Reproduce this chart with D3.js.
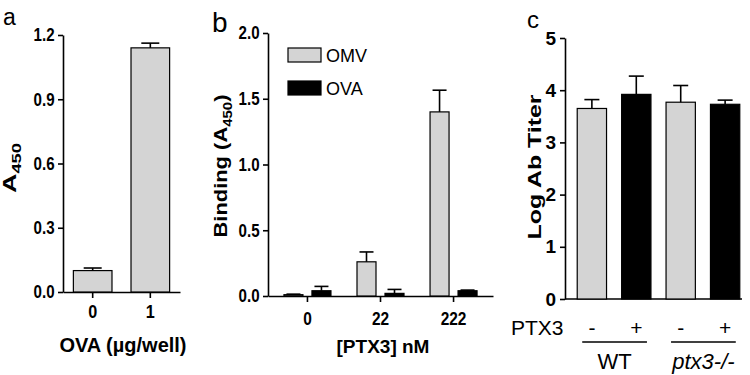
<!DOCTYPE html>
<html>
<head>
<meta charset="utf-8">
<script src="https://cdn.jsdelivr.net/npm/d3@7"></script>
<style>
  body { margin: 0; background: #fff; }
  svg { font-family: "Liberation Sans", Arial, sans-serif; }
  .axis path, .axis line { stroke: #000; stroke-width: 1.6px; }
  .axis text { font-size: 18px; font-weight: bold; fill: #000; }
</style>
</head>
<body>
<div id="chart-area"></div>
<script>
// panel a
var aCats = ["0", "1"];
var aVals = [0.10, 1.14];
var aErr = [0.012, 0.022];
var aTicks = [0, 0.3, 0.6, 0.9, 1.2];

// panel b
var bCats = ["0", "22", "222"];
var bSeries = ["OMV", "OVA"];
var bOmv = [0.01, 0.26, 1.40];
var bOmvErr = [0.004, 0.075, 0.165];
var bOva = [0.04, 0.02, 0.04];
var bOvaErr = [0.033, 0.03, 0.005];
var bTicks = [0, 0.5, 1.0, 1.5, 2.0];

// panel c
var cCats = ["WT-", "WT+", "KO-", "KO+"];
var cSigns = ["-", "+", "-", "+"];
var cVals = [3.65, 3.92, 3.77, 3.73];
var cErr = [0.17, 0.35, 0.32, 0.08];
var cTicks = [0, 1, 2, 3, 4, 5];

var grey = "#d4d4d4";

var svg = d3.select("#chart-area")
  .append("svg")
    .attr("width", 750)
    .attr("height", 375);

function errBar(g, cx, yTop, yErr, cap) {
  g.append("line")
    .attr("x1", cx).attr("x2", cx)
    .attr("y1", yTop).attr("y2", yErr)
    .attr("stroke", "#000").attr("stroke-width", 1.6);
  g.append("line")
    .attr("x1", cx - cap / 2).attr("x2", cx + cap / 2)
    .attr("y1", yErr).attr("y2", yErr)
    .attr("stroke", "#000").attr("stroke-width", 1.6);
}

function panelLetter(txt, x, y, size) {
  svg.append("text")
    .attr("x", x).attr("y", y)
    .attr("font-size", size + "px")
    .text(txt);
}

// rotated title, stretched to the length seen in the figure
function yTitle(g, html, x, cy, len) {
  var t = g.append("text")
    .attr("text-anchor", "middle")
    .attr("font-size", "19px").attr("font-weight", "bold")
    .html(html);
  var w = t.node().getComputedTextLength();
  t.attr("transform", "translate(" + x + "," + cy + ") rotate(-90) scale(" + (len / w) + ",1)");
}

// ---------- panel a ----------
var ga = svg.append("g");
var xa = d3.scaleBand().domain(aCats).range([63, 180]).paddingInner(0.33).paddingOuter(0.18);
var ya = d3.scaleLinear().domain([0, 1.2]).range([292, 35]);

ga.append("g").attr("class", "axis")
  .attr("transform", "translate(63,0)")
  .call(d3.axisLeft(ya).tickValues(aTicks).tickFormat(d3.format(".1f")).tickSize(5).tickPadding(5).tickSizeOuter(0))
  .selectAll("text").attr("transform", "scale(0.84,1)");

ga.append("g").attr("class", "axis")
  .attr("transform", "translate(0,292)")
  .call(d3.axisBottom(xa).tickSize(6).tickPadding(7).tickSizeOuter(0))
  .selectAll("text").attr("transform", "scale(0.9,1)");

aCats.forEach(function(c, i) {
  ga.append("rect")
    .attr("x", xa(c)).attr("y", ya(aVals[i]))
    .attr("width", xa.bandwidth()).attr("height", ya(0) - ya(aVals[i]))
    .attr("fill", grey).attr("stroke", "#000").attr("stroke-width", 1.2);
  errBar(ga, xa(c) + xa.bandwidth() / 2, ya(aVals[i]), ya(aVals[i] + aErr[i]), 18);
});

yTitle(ga, 'A<tspan font-size="13px" dy="5">450</tspan>', 16, 168, 50);

ga.append("text")
  .attr("x", 123).attr("y", 352)
  .attr("text-anchor", "middle")
  .attr("font-size", "20px").attr("font-weight", "bold")
  .text("OVA (\u00b5g/well)");

panelLetter("a", 3, 25, 23);

// ---------- panel b ----------
var gb = svg.append("g");
var xb = d3.scaleBand().domain(bCats).range([268, 493]).paddingInner(0.2).paddingOuter(0.14);
var yb = d3.scaleLinear().domain([0, 2.0]).range([296, 33]);

gb.append("g").attr("class", "axis")
  .attr("transform", "translate(268,0)")
  .call(d3.axisLeft(yb).tickValues(bTicks).tickFormat(d3.format(".1f")).tickSize(5).tickPadding(5).tickSizeOuter(0))
  .selectAll("text").attr("transform", "scale(0.84,1)");

gb.append("g").attr("class", "axis")
  .attr("transform", "translate(0,296)")
  .call(d3.axisBottom(xb).tickSize(6).tickPadding(10).tickSizeOuter(0))
  .selectAll("text").attr("transform", "scale(0.86,1)");

var bw = 19, bgap = 9;
bCats.forEach(function(c, i) {
  var mid = xb(c) + xb.bandwidth() / 2;
  var x1 = mid - bgap / 2 - bw, x2 = mid + bgap / 2;
  gb.append("rect")
    .attr("x", x1).attr("y", yb(bOmv[i]))
    .attr("width", bw).attr("height", yb(0) - yb(bOmv[i]))
    .attr("fill", grey).attr("stroke", "#000").attr("stroke-width", 1.2);
  errBar(gb, x1 + bw / 2, yb(bOmv[i]), yb(bOmv[i] + bOmvErr[i]), 14);
  gb.append("rect")
    .attr("x", x2).attr("y", yb(bOva[i]))
    .attr("width", bw).attr("height", yb(0) - yb(bOva[i]))
    .attr("fill", "#000").attr("stroke", "#000").attr("stroke-width", 1.2);
  errBar(gb, x2 + bw / 2, yb(bOva[i]), yb(bOva[i] + bOvaErr[i]), 14);
});

var legend = gb.append("g").attr("transform", "translate(288,48)");
bSeries.forEach(function(s, i) {
  var row = legend.append("g").attr("transform", "translate(0," + (i * 33) + ")");
  row.append("rect")
    .attr("width", 33).attr("height", 14)
    .attr("fill", i === 0 ? grey : "#000").attr("stroke", "#000").attr("stroke-width", 1.2);
  row.append("text")
    .attr("x", 38).attr("y", 14)
    .attr("font-size", "18px")
    .text(s);
});

yTitle(gb, 'Binding (A<tspan font-size="13px" dy="5">450</tspan><tspan dy="-5">)</tspan>', 227, 166, 143);

gb.append("text")
  .attr("x", 383).attr("y", 353)
  .attr("text-anchor", "middle")
  .attr("font-size", "19px").attr("font-weight", "bold")
  .text("[PTX3] nM");

panelLetter("b", 212, 32, 28);

// ---------- panel c ----------
var gc = svg.append("g");
var xc = d3.scaleBand().domain(cCats).range([575, 742]).paddingInner(0.34).paddingOuter(0.05);
var yc = d3.scaleLinear().domain([0, 5]).range([299, 38]);

gc.append("g").attr("class", "axis")
  .attr("transform", "translate(565,0)")
  .call(d3.axisLeft(yc).tickValues(cTicks).tickFormat(d3.format("d")).tickSize(5).tickPadding(4).tickSizeOuter(0))
  .selectAll("text").style("font-size", "19px");

gc.append("line")
  .attr("x1", 565).attr("x2", 742)
  .attr("y1", yc(0)).attr("y2", yc(0))
  .attr("stroke", "#000").attr("stroke-width", 1.6);

cCats.forEach(function(c, i) {
  var fill = i % 2 === 0 ? grey : "#000";
  gc.append("rect")
    .attr("x", xc(c)).attr("y", yc(cVals[i]))
    .attr("width", xc.bandwidth()).attr("height", yc(0) - yc(cVals[i]))
    .attr("fill", fill).attr("stroke", "#000").attr("stroke-width", 1.2);
  errBar(gc, xc(c) + xc.bandwidth() / 2, yc(cVals[i]), yc(cVals[i] + cErr[i]), 15);
  gc.append("text")
    .attr("x", xc(c) + xc.bandwidth() / 2).attr("y", 335)
    .attr("text-anchor", "middle")
    .attr("font-size", "21px")
    .text(cSigns[i]);
});

yTitle(gc, "Log Ab Titer", 541, 167, 145);

gc.append("text")
  .attr("x", 511).attr("y", 335)
  .attr("font-size", "21px")
  .text("PTX3");

var groups = [
  {label: "WT", italic: false, from: "WT-", to: "WT+"},
  {label: "ptx3-/-", italic: true, from: "KO-", to: "KO+"}
];
groups.forEach(function(gr) {
  var x1 = xc(gr.from) + 5, x2 = xc(gr.to) + xc.bandwidth() - 4;
  gc.append("line")
    .attr("x1", x1).attr("x2", x2)
    .attr("y1", 342).attr("y2", 342)
    .attr("stroke", "#000").attr("stroke-width", 1.3);
  gc.append("text")
    .attr("x", (x1 + x2) / 2).attr("y", 369)
    .attr("text-anchor", "middle")
    .attr("font-size", "22px")
    .attr("font-style", gr.italic ? "italic" : "normal")
    .text(gr.label);
});

panelLetter("c", 527, 28, 24);
</script>
</body>
</html>
